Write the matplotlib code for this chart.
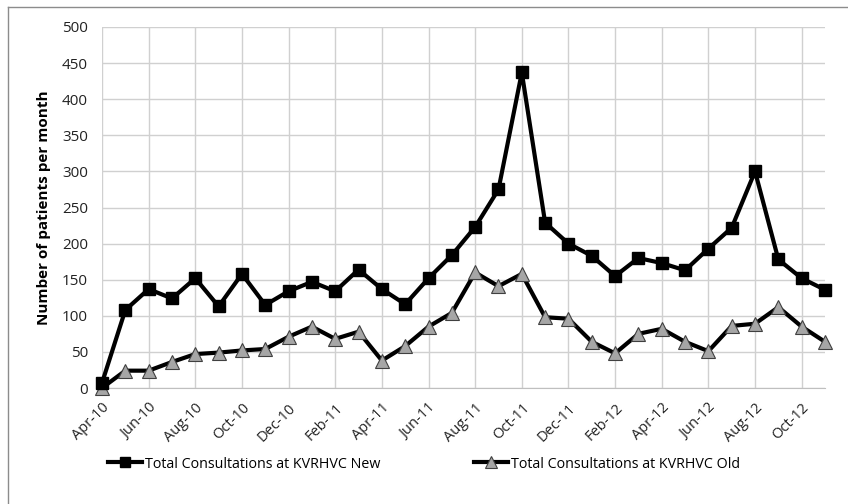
import matplotlib
matplotlib.use('Agg')
import numpy as np
import matplotlib.pyplot as plt
from matplotlib.lines import Line2D

# 月份（Apr-10 .. Nov-12）
months = ['Apr-10', 'May-10', 'Jun-10', 'Jul-10', 'Aug-10', 'Sep-10', 'Oct-10', 'Nov-10',
          'Dec-10', 'Jan-11', 'Feb-11', 'Mar-11', 'Apr-11', 'May-11', 'Jun-11', 'Jul-11',
          'Aug-11', 'Sep-11', 'Oct-11', 'Nov-11', 'Dec-11', 'Jan-12', 'Feb-12', 'Mar-12',
          'Apr-12', 'May-12', 'Jun-12', 'Jul-12', 'Aug-12', 'Sep-12', 'Oct-12', 'Nov-12']

new_counts = [7, 108, 137, 124, 152, 113, 158, 115,
              134, 147, 134, 164, 137, 116, 152, 184,
              223, 275, 437, 229, 200, 183, 155, 180,
              173, 163, 193, 222, 300, 178, 152, 136]

old_counts = [0, 24, 24, 36, 47, 49, 52, 54,
              71, 85, 68, 78, 38, 58, 85, 104,
              160, 141, 158, 98, 96, 64, 48, 75,
              82, 64, 51, 86, 89, 112, 85, 64]

label_new = 'Total Consultations at KVRHVC New'
label_old = 'Total Consultations at KVRHVC Old'

plt.rcParams['font.family'] = ['Open Sans', 'DejaVu Sans']

fig = plt.figure(figsize=(8.48, 5.04), dpi=100)
ax = fig.add_axes([102 / 848, 116 / 504, 723 / 848, 361 / 504])

x = np.arange(len(months))
ax.plot(x, new_counts, color='black', lw=3, marker='s', ms=9,
        mfc='black', mec='black', label=label_new, clip_on=False, zorder=4)
ax.plot(x, old_counts, color='black', lw=3, marker='^', ms=10,
        mfc='#a6a6a6', mec='#404040', mew=0.8, label=label_old, clip_on=False, zorder=3)

ax.set_xlim(0, len(months) - 1)
ax.set_ylim(0, 500)
ax.set_yticks(range(0, 501, 50))
ax.set_xticks(x[::2])
ax.set_xticklabels(months[::2], rotation=45, ha='right', rotation_mode='anchor',
                   fontsize=10.5, color='#222222')
ax.tick_params(axis='y', labelsize=11, colors='#222222', length=0, pad=10)
ax.tick_params(axis='x', length=0, pad=9)
ax.grid(True, color='#d0d0d0', lw=1)
ax.set_axisbelow(True)
for side in ['top', 'right', 'left']:
    ax.spines[side].set_visible(False)
ax.spines['bottom'].set_color('#bfbfbf')

ax.set_ylabel('Number of patients per month', fontsize=11, fontweight='bold', labelpad=8)

handles = [
    Line2D([], [], color='black', lw=3, marker='s', ms=7, mfc='black', mec='black'),
    Line2D([], [], color='black', lw=3, marker='^', ms=8, mfc='#a6a6a6', mec='#404040', mew=0.8),
]
fig.legend(handles, [label_new, label_old], loc='center', ncol=2,
           bbox_to_anchor=(0.5, 40 / 504), frameon=False, fontsize=10.3,
           handlelength=2.4, handletextpad=0.2, columnspacing=6.5)

# 外框（上、左）
fig.add_artist(Line2D([8 / 848, 1], [1 - 7 / 504, 1 - 7 / 504], color='#8c8c8c', lw=1,
                      transform=fig.transFigure))
fig.add_artist(Line2D([8 / 848, 8 / 848], [0, 1 - 7 / 504], color='#8c8c8c', lw=1,
                      transform=fig.transFigure))

fig.savefig('out.png', dpi=100)
